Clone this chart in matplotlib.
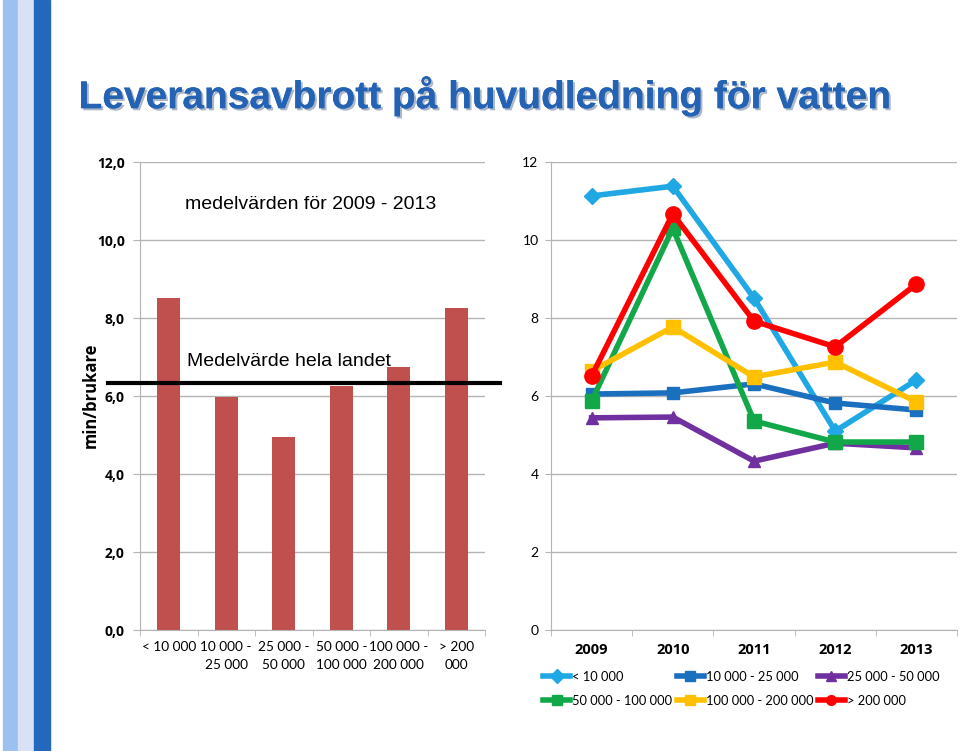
import numpy as np
import matplotlib
matplotlib.use("Agg")
import matplotlib.pyplot as plt
import matplotlib.patheffects as pe
from matplotlib.patches import Rectangle
from matplotlib.lines import Line2D

# data
size_groups = ["< 10 000", "10 000 -\n25 000", "25 000 -\n50 000",
               "50 000 -\n100 000", "100 000 -\n200 000", "> 200\n000"]
mean_values = [8.51, 5.97, 4.95, 6.26, 6.74, 8.26]
national_avg = 6.33

years = ["2009", "2010", "2011", "2012", "2013"]
series_names = ["< 10 000", "10 000 - 25 000", "25 000 - 50 000",
                "50 000 - 100 000", "100 000 - 200 000", "> 200 000"]
s_lt10 = [11.13, 11.38, 8.51, 5.10, 6.41]
s_10_25 = [6.05, 6.08, 6.31, 5.82, 5.64]
s_25_50 = [5.44, 5.46, 4.33, 4.79, 4.67]
s_50_100 = [5.87, 10.30, 5.36, 4.82, 4.82]
s_100_200 = [6.64, 7.77, 6.49, 6.87, 5.85]
s_gt200 = [6.51, 10.67, 7.92, 7.26, 8.87]

line_colors = ["#1fa8e4", "#1a6fbf", "#7030a0", "#12a84a", "#ffc000", "#ff0000"]
line_markers = ["D", "s", "^", "s", "s", "o"]
marker_sizes = [8, 9, 9, 10, 10, 11]

grid_col = "#b4b4b4"
body_font = "Lato"

fig = plt.figure(figsize=(9.6, 7.51), dpi=100)

# decorative stripes on the left edge
for x0, w, c in [(3, 15, "#9cc1f0"), (18, 16, "#d8e1f6"), (34, 16, "#2468be")]:
    fig.patches.append(Rectangle((x0 / 960, 0), w / 960, 1, transform=fig.transFigure,
                                 color=c, zorder=0))

# title with shadow
fig.text(0.505, 0.872, "Leveransavbrott på huvudledning för vatten", ha="center", va="center",
         fontsize=28, fontweight="bold", color="#2462b4", family="Liberation Sans",
         path_effects=[pe.withSimplePatchShadow(offset=(1.5, -1.5), shadow_rgbFace="#8898b0",
                                                alpha=0.7), pe.Normal()])

# ---------- left: bar chart ----------
ax1 = fig.add_axes([140 / 960, 1 - 630 / 751, 345 / 960, 468 / 751])
x = np.arange(len(size_groups))
ax1.bar(x, mean_values, width=0.4, color="#c0504d", zorder=2)
ax1.set_xlim(-0.5, len(size_groups) - 0.5)
ax1.set_ylim(0, 12)
ax1.set_yticks(np.arange(0, 13, 2))
ax1.set_yticklabels([f"{v:.1f}".replace(".", ",") for v in np.arange(0, 13, 2)],
                    fontweight="bold", fontsize=10, family="Open Sans")
ax1.set_xticks(x)
ax1.set_xticklabels(size_groups, fontsize=9.8, family=body_font, linespacing=1.55, va="top")
ax1.set_xticks(np.arange(-0.5, len(size_groups)), minor=True)
ax1.tick_params(axis="x", which="major", length=0, pad=8)
ax1.tick_params(axis="x", which="minor", length=4, color=grid_col)
ax1.tick_params(axis="y", length=5, color=grid_col, pad=6)
ax1.grid(axis="y", color=grid_col, linewidth=1, zorder=0)
for s in ["top", "right"]:
    ax1.spines[s].set_visible(False)
for s in ["left", "bottom"]:
    ax1.spines[s].set_color(grid_col)
ax1.axhline(national_avg, xmin=-0.093, xmax=1.043, color="black", linewidth=3,
            clip_on=False, zorder=3)
ax1.text(0.13, 0.91, "medelvärden för 2009 - 2013", transform=ax1.transAxes,
         fontsize=14, family="Liberation Sans", va="center")
ax1.text(0.137, 0.573, "Medelvärde hela landet", transform=ax1.transAxes,
         fontsize=14, family="Liberation Sans", va="center")
fig.text(91 / 960, 1 - 395 / 751, "min/brukare", rotation=90, ha="center", va="center",
         fontsize=12, fontweight="bold", family="Open Sans")

# ---------- right: line chart ----------
ax2 = fig.add_axes([551 / 960, 1 - 630 / 751, 406 / 960, 468 / 751])
xi = np.arange(len(years))
all_series = [s_lt10, s_10_25, s_25_50, s_50_100, s_100_200, s_gt200]
for vals, name, col, mk, ms in zip(all_series, series_names, line_colors, line_markers, marker_sizes):
    ax2.plot(xi, vals, color=col, linewidth=4, marker=mk, markersize=ms,
             markeredgecolor=col, label=name, zorder=3)
ax2.set_xlim(-0.5, len(years) - 0.5)
ax2.set_ylim(0, 12)
ax2.set_yticks(np.arange(0, 13, 2))
ax2.set_yticklabels([str(v) for v in range(0, 13, 2)], fontsize=10, family=body_font)
ax2.set_xticks(xi)
ax2.set_xticklabels(years, fontsize=10.5, fontweight="bold", family="Open Sans")
ax2.set_xticks(np.arange(-0.5, len(years)), minor=True)
ax2.tick_params(axis="x", which="major", length=0, pad=9)
ax2.tick_params(axis="x", which="minor", length=4, color=grid_col)
ax2.tick_params(axis="y", length=4, color=grid_col, pad=5)
ax2.grid(axis="y", color=grid_col, linewidth=1, zorder=0)
for s in ["top", "right"]:
    ax2.spines[s].set_visible(False)
for s in ["left", "bottom"]:
    ax2.spines[s].set_color(grid_col)

# legend with smaller marker proxies, row-major order
handles = [Line2D([], [], color=c, linewidth=4, marker=m, markersize=7, markeredgecolor=c)
           for c, m in zip(line_colors, line_markers)]
order = [0, 3, 1, 4, 2, 5]
fig.legend([handles[i] for i in order], [series_names[i] for i in order],
           ncol=3, loc="upper left", bbox_to_anchor=(543 / 960, 1 - 671 / 751),
           frameon=False, prop={"family": body_font, "size": 9.3},
           handlelength=2.1, handletextpad=0.15, columnspacing=0.35,
           labelspacing=0.9, borderaxespad=0, borderpad=0)

fig.savefig("out.png", dpi=100)
